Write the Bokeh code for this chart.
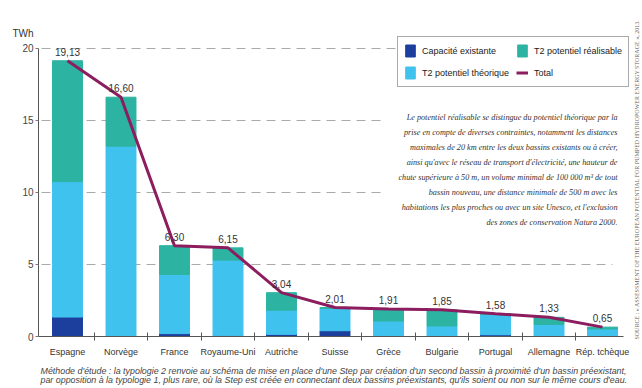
import math
from bokeh.plotting import figure
from bokeh.models import (ColumnDataSource, FixedTicker, Label, Legend, LegendItem,
                          BoxAnnotation, Range1d)
from bokeh.core.properties import value
from bokeh.embed import file_html
from bokeh.resources import INLINE

# ---- data ----
countries = ["Espagne", "Norvège", "France", "Royaume-Uni", "Autriche", "Suisse",
             "Grèce", "Bulgarie", "Portugal", "Allemagne", "Rép. tchèque"]
existing = [1.35, 0.0, 0.2, 0.05, 0.15, 0.4, 0.0, 0.03, 0.12, 0.03, 0.0]
theorique = [9.4, 13.2, 4.1, 5.25, 1.67, 1.55, 1.07, 0.7, 1.43, 0.81, 0.52]
realisable = [8.38, 3.4, 2.0, 0.85, 1.22, 0.06, 0.84, 1.12, 0.03, 0.49, 0.13]
total = [19.13, 16.60, 6.30, 6.15, 3.04, 2.01, 1.91, 1.85, 1.58, 1.33, 0.65]
y_ticks = [0, 5, 10, 15, 20]

C_EXIST = "#1c3f9e"
C_THEO = "#40c2ee"
C_REAL = "#2db3a2"
C_TOTAL = "#8c1d5f"
SANS = "Liberation Sans"
SERIF = "Liberation Serif"

xs = list(range(len(countries)))
b1 = existing
t2 = [e + t for e, t in zip(existing, theorique)]
t3 = [a + r for a, r in zip(t2, realisable)]
src = ColumnDataSource(dict(
    x=xs, b0=[0] * len(xs), b1=b1, t2=t2, t3=t3, total=total,
    lbl=[f"{v:.2f}".replace(".", ",") for v in total]))

W, H = 642, 388
# whole canvas is the frame; axes are placed at fixed locations
X0, XS = 67.0, 53.5      # canvas x of first category, px per category
Y0, YS = 336.0, 14.415   # canvas y of value 0, px per TWh
x_lo, x_hi = -X0 / XS, (W - X0) / XS
y_lo, y_hi = -(H - Y0) / YS, Y0 / YS
x_axis_start = (38 - X0) / XS
x_axis_end = (623 - X0) / XS

p = figure(width=W, height=H, output_backend="svg", toolbar_location=None,
           min_border=0, min_border_left=0, min_border_right=0, min_border_top=0,
           min_border_bottom=0, x_range=Range1d(x_lo, x_hi), y_range=Range1d(y_lo, y_hi))
p.outline_line_color = None
p.background_fill_color = "white"
p.border_fill_color = "white"

r1 = p.vbar(x="x", bottom="b0", top="b1", width=0.56, source=src, color=C_EXIST)
r2 = p.vbar(x="x", bottom="b1", top="t2", width=0.56, source=src, color=C_THEO)
r3 = p.vbar(x="x", bottom="t2", top="t3", width=0.56, source=src, color=C_REAL)
r4 = p.line(x="x", y="total", source=src, line_color=C_TOTAL, line_width=3)
p.text(x="x", y="total", text="lbl", source=src, text_align="center",
       text_baseline="bottom", y_offset=-5, text_font=value(SANS),
       text_font_size="10px", text_color="#333333")

# axes
xa = p.xaxis[0]
xa.fixed_location = 0
xa.bounds = (x_axis_start, x_axis_end)
xa.ticker = FixedTicker(ticks=xs, minor_ticks=[i + 0.5 for i in xs[:-1]])
xa.major_label_overrides = {i: c for i, c in enumerate(countries)}
xa.major_tick_line_color = None
xa.major_tick_out = 0
xa.major_tick_in = 0
xa.minor_tick_in = 4
xa.minor_tick_out = 4
xa.minor_tick_line_color = "#555555"
xa.axis_line_color = "#555555"
xa.major_label_text_font = SANS
xa.major_label_text_font_size = "9px"
xa.major_label_text_color = "#333333"
xa.major_label_standoff = 6

ya = p.yaxis[0]
ya.fixed_location = x_axis_start
ya.bounds = (0, 20)
ya.ticker = FixedTicker(ticks=y_ticks)
ya.minor_tick_line_color = None
ya.major_tick_in = 0
ya.major_tick_out = 3
ya.major_tick_line_color = "#777777"
ya.axis_line_color = "#555555"
ya.major_label_text_font = SANS
ya.major_label_text_font_size = "10px"
ya.major_label_text_color = "#444444"
ya.major_label_standoff = 2

p.xgrid.grid_line_color = None
p.ygrid.ticker = FixedTicker(ticks=y_ticks[1:])
p.ygrid.grid_line_color = "#aaaaaa"
p.ygrid.grid_line_dash = "9 6"
p.ygrid.grid_line_width = 1
p.ygrid.cross_bounds = (x_axis_start + 0.05, (612 - X0) / XS)


def lab(cx, cy, text, **kw):
    return Label(x=cx, y=H - cy, x_units="screen", y_units="screen", text=text, **kw)


# white box behind explanatory text
p.add_layout(BoxAnnotation(left=383, right=624, top=H - 102, bottom=H - 238,
                           left_units="screen", right_units="screen",
                           top_units="screen", bottom_units="screen",
                           fill_color="white", fill_alpha=1, line_color=None, level="underlay"))

note = [
    "Le potentiel réalisable se distingue du potentiel théorique par la",
    "prise en compte de diverses contraintes, notamment les distances",
    "maximales de 20 km entre les deux bassins existants ou à créer,",
    "ainsi qu'avec le réseau de transport d'électricité, une hauteur de",
    "chute supérieure à 50 m, un volume minimal de 100 000 m³ de tout",
    "bassin nouveau, une distance minimale de 500 m avec les",
    "habitations les plus proches ou avec un site Unesco, et l'exclusion",
    "des zones de conservation Natura 2000.",
]
for i, t in enumerate(note):
    p.add_layout(lab(617, 117 + 15 * i, t, text_align="right", text_baseline="middle",
                     text_font=SERIF, text_font_style="italic", text_font_size="8.2px",
                     text_color="#333333"))

p.add_layout(lab(12, 33, "TWh", text_align="left", text_baseline="middle",
                 text_font=SANS, text_font_size="10px", text_color="#333333"))

caption = [
    "Méthode d'étude : la typologie 2 renvoie au schéma de mise en place d'une Step par création d'un second bassin à proximité d'un bassin préexistant,",
    "par opposition à la typologie 1, plus rare, où la Step est créée en connectant deux bassins préexistants, qu'ils soient ou non sur le même cours d'eau.",
]
for i, t in enumerate(caption):
    p.add_layout(lab(40, 370.5 + 9 * i, t, text_align="left", text_baseline="middle",
                     text_font=SANS, text_font_style="italic", text_font_size="8.9px",
                     text_color="#444444"))

p.add_layout(lab(636, 179, "SOURCE : « ASSESSMENT OF THE EUROPEAN POTENTIAL FOR PUMPED HYDROPOWER ENERGY STORAGE », 2013.",
                 angle=math.pi / 2, text_align="center", text_baseline="middle",
                 text_font=SERIF, text_font_size="6px", text_color="#666666"))

legend = Legend(items=[
    LegendItem(label="Capacité existante", renderers=[r1]),
    LegendItem(label="T2 potentiel théorique", renderers=[r2]),
    LegendItem(label="T2 potentiel réalisable", renderers=[r3]),
    LegendItem(label="Total", renderers=[r4]),
], orientation="vertical", ncols=2, location=(397, H - 87))
legend.border_line_color = "#555555"
legend.border_line_width = 1
legend.background_fill_color = "white"
legend.background_fill_alpha = 1
legend.padding = 6
legend.margin = 0
legend.spacing = 7
legend.glyph_width = 12
legend.glyph_height = 15
legend.label_height = 15
legend.label_width = 20
legend.label_standoff = 6
legend.label_text_font = SANS
legend.label_text_font_size = "9px"
legend.label_text_color = "#222222"
p.add_layout(legend, "center")

open("out.html", "w").write(file_html(p, INLINE))
